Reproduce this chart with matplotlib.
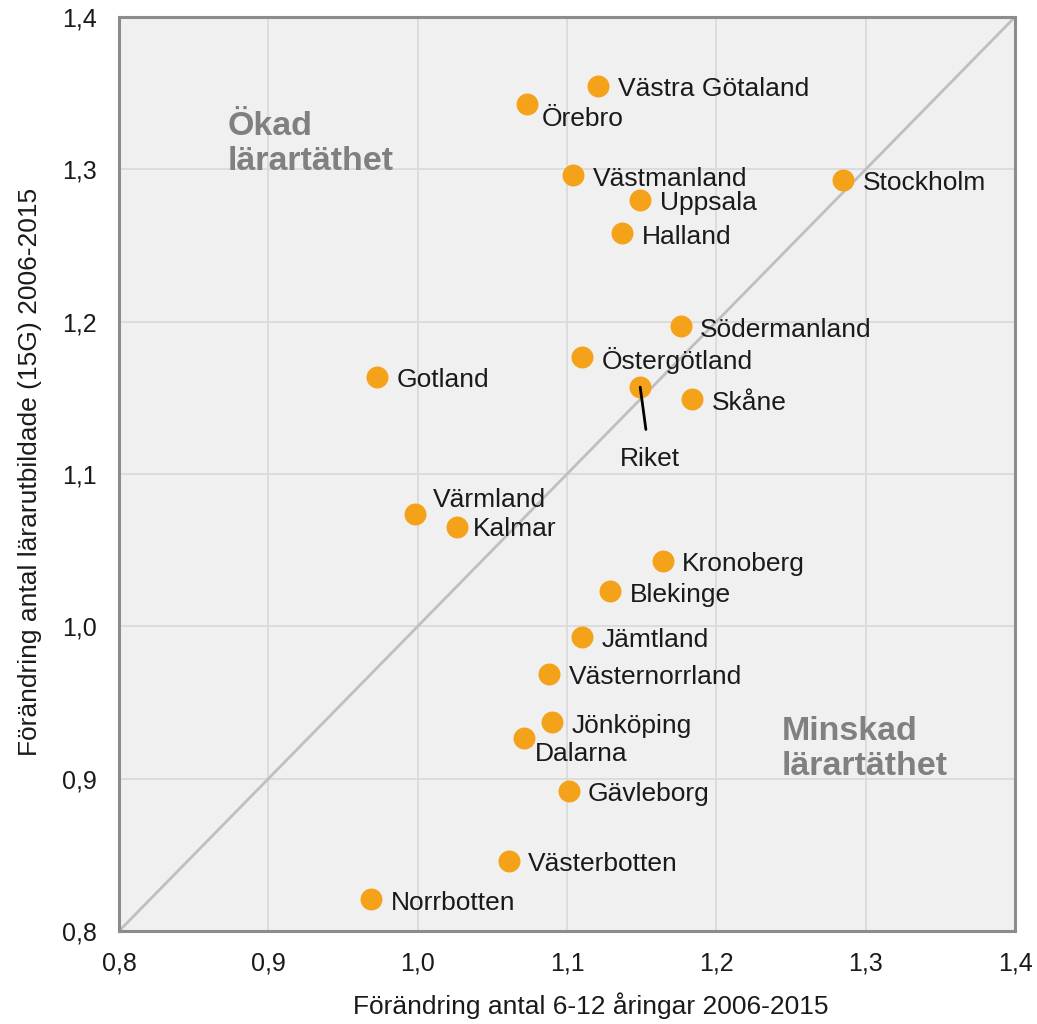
import matplotlib.pyplot as plt
from matplotlib.ticker import FixedLocator

plt.rcParams['font.family'] = ['Liberation Sans', 'DejaVu Sans']

# data
regions = ['Västra Götaland', 'Örebro', 'Västmanland', 'Stockholm', 'Uppsala',
           'Halland', 'Södermanland', 'Östergötland', 'Gotland', 'Riket',
           'Skåne', 'Värmland', 'Kalmar', 'Kronoberg', 'Blekinge', 'Jämtland',
           'Västernorrland', 'Jönköping', 'Dalarna', 'Gävleborg',
           'Västerbotten', 'Norrbotten']
x_children = [1.121, 1.073, 1.104, 1.285, 1.149, 1.137, 1.176, 1.110, 0.973,
              1.149, 1.184, 0.998, 1.026, 1.164, 1.129, 1.110, 1.088, 1.090,
              1.071, 1.101, 1.061, 0.969]
y_teachers = [1.355, 1.343, 1.296, 1.293, 1.280, 1.258, 1.197, 1.177, 1.164,
              1.157, 1.149, 1.074, 1.065, 1.043, 1.023, 0.993, 0.969, 0.937,
              0.927, 0.892, 0.846, 0.821]
ticks = [0.8, 0.9, 1.0, 1.1, 1.2, 1.3, 1.4]
tick_labels = ['0,8', '0,9', '1,0', '1,1', '1,2', '1,3', '1,4']

# label offsets in points (default: right of the dot)
offsets = {'Örebro': (11, -11), 'Värmland': (13, 10), 'Dalarna': (8, -12),
           'Kalmar': (12, -1)}

fig = plt.figure(figsize=(10.37, 10.24), dpi=100)
ax = fig.add_axes([0.1148, 0.0908, 0.864, 0.8926])
ax.set_facecolor('#f0f0f0')
ax.set_xlim(0.8, 1.4)
ax.set_ylim(0.8, 1.4)
ax.xaxis.set_major_locator(FixedLocator(ticks))
ax.yaxis.set_major_locator(FixedLocator(ticks))
ax.set_xticklabels(tick_labels)
ax.set_yticklabels(tick_labels)
ax.tick_params(length=0, labelsize=18, colors='#1a1a1a')
ax.tick_params(axis='x', pad=15)
ax.tick_params(axis='y', pad=16)
ax.grid(True, color='#d9d9d9', linewidth=1.2)
ax.set_axisbelow(True)
for s in ax.spines.values():
    s.set_color('#8c8c8c')
    s.set_linewidth(2.2)

ax.plot([0.8, 1.4], [0.8, 1.4], color='#bfbfbf', linewidth=2, zorder=1)

ax.scatter(x_children, y_teachers, s=250, color='#f5a21b', zorder=3,
           linewidths=0)

for name, x, y in zip(regions, x_children, y_teachers):
    if name == 'Riket':
        ax.annotate(name, (x, y), xytext=(7, -52), textcoords='offset points',
                    ha='center', va='center', fontsize=19, color='#1a1a1a',
                    arrowprops=dict(arrowstyle='-', color='black', lw=2,
                                    shrinkA=11, shrinkB=0))
        continue
    dx, dy = offsets.get(name, (14, -2.5))
    ax.annotate(name, (x, y), xytext=(dx, dy), textcoords='offset points',
                ha='left', va='center', fontsize=19, color='#1a1a1a')

ax.text(0.873, 1.338, 'Ökad\nlärartäthet', fontsize=24.5, fontweight='bold',
        color='#808080', ha='left', va='top', linespacing=1.15)
ax.text(1.2435, 0.941, 'Minskad\nlärartäthet', fontsize=24.5,
        fontweight='bold', color='#808080', ha='left', va='top',
        linespacing=1.15)

ax.set_xlabel('Förändring antal 6-12 åringar 2006-2015', fontsize=19,
              color='#1a1a1a')
ax.set_ylabel('Förändring antal lärarutbildade (15G) 2006-2015', fontsize=19,
              color='#1a1a1a')
ax.xaxis.set_label_coords(0.527, -0.067)
ax.yaxis.set_label_coords(-0.086, 0.502)

fig.savefig('out.png', dpi=100)
